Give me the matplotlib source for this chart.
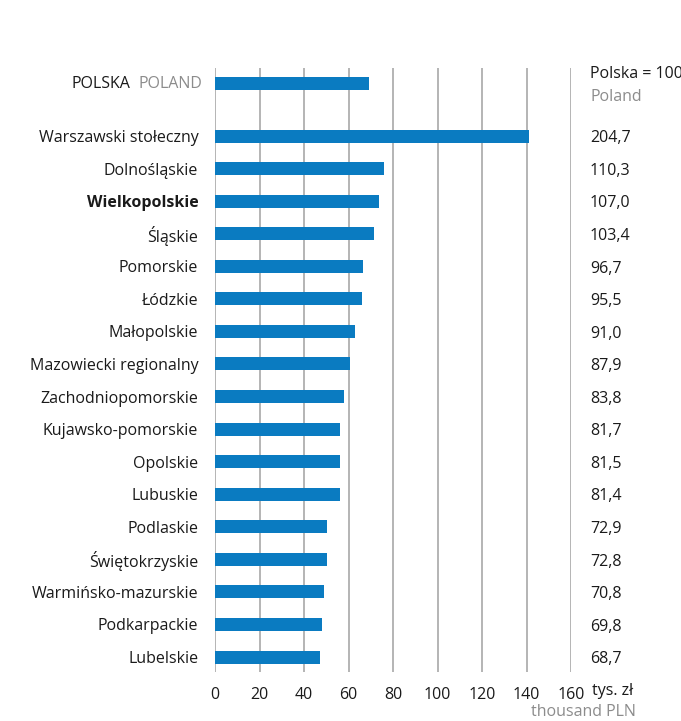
import matplotlib
matplotlib.use("Agg")
import matplotlib.pyplot as plt

plt.rcParams['font.family'] = ['Open Sans', 'DejaVu Sans']

regions = ["Warszawski stołeczny", "Dolnośląskie", "Wielkopolskie", "Śląskie", "Pomorskie",
           "Łódzkie", "Małopolskie", "Mazowiecki regionalny", "Zachodniopomorskie",
           "Kujawsko-pomorskie", "Opolskie", "Lubuskie", "Podlaskie", "Świętokrzyskie",
           "Warmińsko-mazurskie", "Podkarpackie", "Lubelskie"]
values = [141.2, 76.1, 73.8, 71.3, 66.7, 65.9, 62.8, 60.6, 57.8, 56.4, 56.2, 56.2,
          50.3, 50.2, 48.9, 48.2, 47.4]
index_labels = ["204,7", "110,3", "107,0", "103,4", "96,7", "95,5", "91,0", "87,9", "83,8",
                "81,7", "81,5", "81,4", "72,9", "72,8", "70,8", "69,8", "68,7"]
poland_value = 69.0
xticks = [0, 20, 40, 60, 80, 100, 120, 140, 160]

W, H = 681, 721
fig = plt.figure(figsize=(W / 100, H / 100), dpi=100)
ax = fig.add_axes([215 / W, 1 - 672 / H, (571 - 215) / W, (672 - 68) / H])

bar_color = '#0a7bc1'
grid_color = '#b4b4b4'
dark = '#1a1a1a'
grey = '#8c8c8c'
fs = 11.5
ypos = [1.6 + i for i in range(len(regions))]

ax.barh([0], [poland_value], height=0.4, color=bar_color, zorder=3)
ax.barh(ypos, values, height=0.4, color=bar_color, zorder=3)

ax.set_xlim(0, 160)
ax.set_ylim(ypos[-1] + 0.46, -0.49)
for x in xticks:
    ax.axvline(x, color=grid_color, lw=1.4, zorder=1)
for s in ax.spines.values():
    s.set_visible(False)
ax.set_xticks(xticks)
ax.set_xticklabels([str(x) for x in xticks], fontsize=fs, color=dark)
ax.tick_params(axis='x', length=0, pad=11)
ax.set_yticks(ypos)
ax.set_yticklabels(regions, fontsize=fs, color=dark)
ax.tick_params(axis='y', length=0, pad=12)
for lbl in ax.get_yticklabels():
    if lbl.get_text() == "Wielkopolskie":
        lbl.set_fontweight('bold')

trans = ax.get_yaxis_transform()

# Poland label (two colours)
t2 = ax.annotate("POLAND", xy=(0, 0), xycoords=trans, xytext=(-13, 0), textcoords='offset pixels',
                 ha='right', va='center', fontsize=fs, color=grey, annotation_clip=False)
fig.canvas.draw()
bb = t2.get_window_extent()
ax.annotate("POLSKA", xy=(0, 0), xycoords=trans, xytext=(-13 - bb.width - 8, 0),
            textcoords='offset pixels', ha='right', va='center', fontsize=fs, color=dark,
            annotation_clip=False)

# right-side index values
xr = (590 - 215) / (571 - 215)
for y, s in zip(ypos, index_labels):
    ax.text(xr, y + 0.07, s, transform=trans, fontsize=fs, color=dark, va='center', ha='left',
            clip_on=False)
ax.text(xr, -0.31, "Polska = 100", transform=trans, fontsize=fs, color=dark,
        va='center', ha='left', clip_on=False)
ax.text(xr, 0.40, "Poland", transform=trans, fontsize=fs, color=grey,
        va='center', ha='left', clip_on=False)

fig.text(592 / W, 1 - 691 / H, "tys. zł", fontsize=fs, color=dark, ha='left', va='center')
fig.text(636 / W, 1 - 712 / H, "thousand PLN", fontsize=fs, color=grey, ha='right', va='center')

fig.savefig("out.png", dpi=100)
